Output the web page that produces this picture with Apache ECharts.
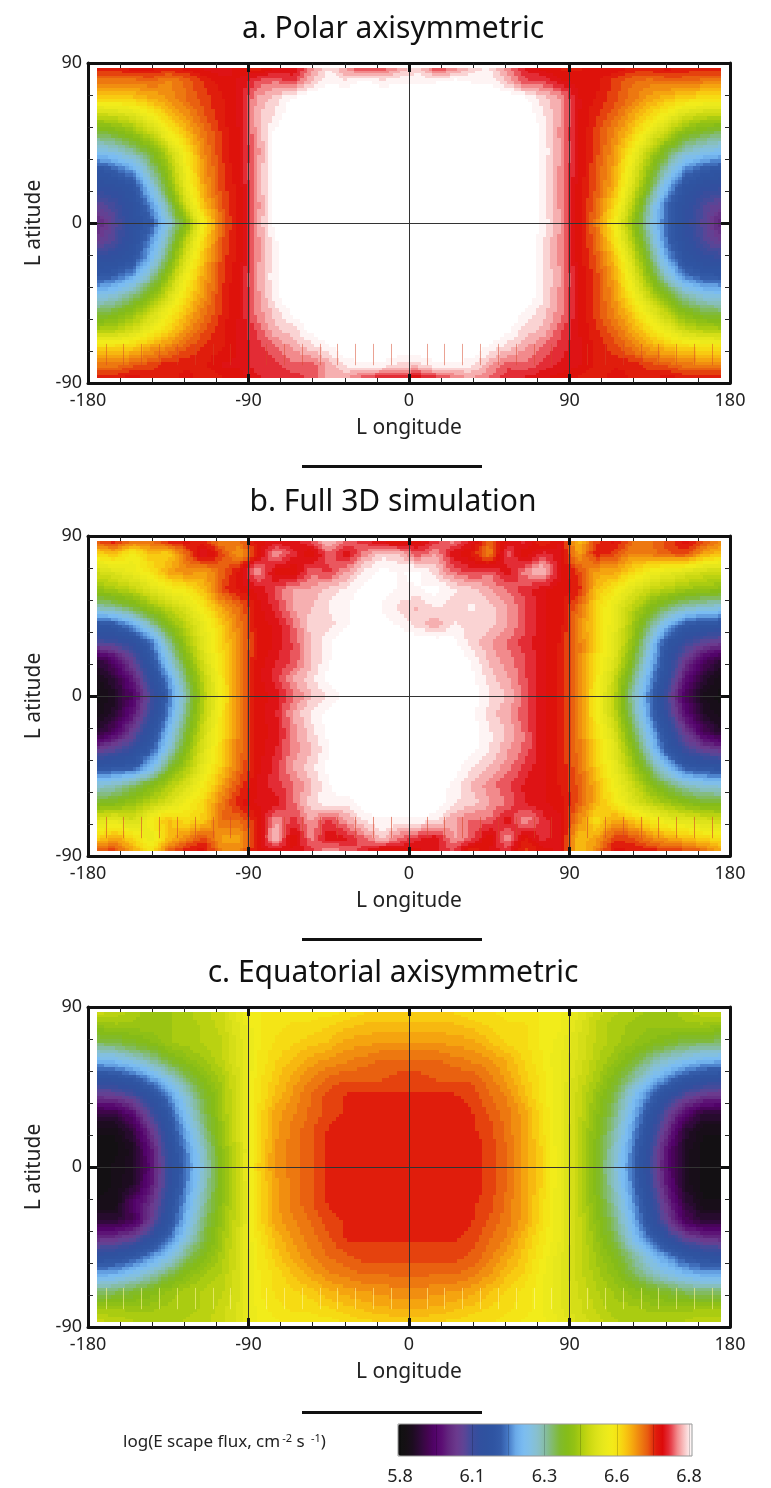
<!DOCTYPE html>
<html><head><meta charset="utf-8">
<style>html,body{margin:0;padding:0;background:#fff}#c{width:771px;height:1488px}</style>
<script src="https://cdn.jsdelivr.net/npm/echarts@6/dist/echarts.min.js"></script>
</head><body><div id="c"></div>
<script>
// Sample positions of the read grid (degrees)
const lons=[-175,-165,-155,-145,-135,-125,-115,-105,-95,-85,-75,-65,-55,-45,-35,-25,-15,-5,5,15,25,35,45,55,65,75,85,95,105,115,125,135,145,155,165,175];
const lats=[87,80,70,60,50,40,30,20,10,0,-10,-20,-30,-40,-50,-60,-70,-80,-87];
// log10 escape flux: one row per latitude, one value per longitude
const polar=[
[6.68,6.68,6.69,6.69,6.68,6.69,6.70,6.71,6.69,6.67,6.70,6.70,6.75,6.79,6.75,6.72,6.73,6.76,6.78,6.73,6.74,6.78,6.79,6.75,6.71,6.69,6.68,6.68,6.69,6.70,6.68,6.68,6.69,6.68,6.68,6.68],
[6.63,6.63,6.63,6.64,6.62,6.64,6.67,6.69,6.70,6.73,6.74,6.72,6.77,6.80,6.79,6.81,6.79,6.80,6.80,6.80,6.81,6.80,6.80,6.77,6.73,6.73,6.70,6.69,6.69,6.66,6.64,6.63,6.64,6.64,6.63,6.63],
[6.56,6.56,6.57,6.59,6.61,6.64,6.66,6.68,6.70,6.76,6.78,6.81,6.82,6.82,6.82,6.82,6.82,6.82,6.82,6.82,6.82,6.82,6.82,6.82,6.81,6.78,6.76,6.70,6.68,6.66,6.63,6.60,6.58,6.56,6.55,6.55],
[6.44,6.45,6.47,6.52,6.57,6.61,6.65,6.68,6.70,6.77,6.79,6.82,6.82,6.82,6.82,6.82,6.82,6.82,6.82,6.82,6.82,6.82,6.82,6.82,6.82,6.79,6.76,6.70,6.67,6.64,6.60,6.56,6.51,6.46,6.44,6.43],
[6.33,6.35,6.39,6.44,6.52,6.58,6.63,6.67,6.70,6.76,6.81,6.82,6.82,6.82,6.82,6.82,6.82,6.82,6.82,6.82,6.82,6.82,6.82,6.82,6.82,6.80,6.75,6.70,6.66,6.62,6.57,6.50,6.43,6.37,6.34,6.32],
[6.24,6.26,6.30,6.36,6.44,6.54,6.62,6.67,6.70,6.75,6.81,6.82,6.82,6.82,6.82,6.82,6.82,6.82,6.82,6.82,6.82,6.82,6.82,6.82,6.82,6.80,6.76,6.70,6.66,6.61,6.53,6.43,6.35,6.28,6.25,6.23],
[6.12,6.15,6.20,6.30,6.40,6.52,6.61,6.66,6.70,6.76,6.81,6.82,6.82,6.82,6.82,6.82,6.82,6.82,6.82,6.82,6.82,6.82,6.82,6.82,6.82,6.80,6.75,6.70,6.65,6.60,6.50,6.39,6.28,6.18,6.14,6.12],
[6.08,6.09,6.12,6.24,6.37,6.50,6.60,6.66,6.69,6.76,6.81,6.82,6.82,6.82,6.82,6.82,6.82,6.82,6.82,6.82,6.82,6.82,6.82,6.82,6.82,6.80,6.75,6.69,6.65,6.59,6.48,6.35,6.21,6.11,6.08,6.07],
[6.02,6.05,6.10,6.18,6.31,6.46,6.58,6.65,6.69,6.75,6.81,6.82,6.82,6.82,6.82,6.82,6.82,6.82,6.82,6.82,6.82,6.82,6.82,6.82,6.82,6.80,6.75,6.69,6.64,6.56,6.44,6.29,6.15,6.09,6.04,6.01],
[5.97,6.03,6.09,6.14,6.26,6.38,6.53,6.64,6.69,6.76,6.81,6.82,6.82,6.82,6.82,6.82,6.82,6.82,6.82,6.82,6.82,6.82,6.82,6.82,6.82,6.80,6.76,6.69,6.63,6.53,6.40,6.27,6.15,6.08,6.03,5.96],
[6.00,6.04,6.10,6.18,6.30,6.44,6.56,6.65,6.69,6.75,6.80,6.82,6.82,6.82,6.82,6.82,6.82,6.82,6.82,6.82,6.82,6.82,6.82,6.82,6.82,6.79,6.75,6.69,6.64,6.55,6.43,6.30,6.16,6.09,6.04,6.00],
[6.08,6.09,6.12,6.22,6.34,6.48,6.58,6.66,6.69,6.75,6.80,6.82,6.82,6.82,6.82,6.82,6.82,6.82,6.82,6.82,6.82,6.82,6.82,6.82,6.82,6.79,6.75,6.69,6.65,6.58,6.47,6.34,6.20,6.11,6.08,6.07],
[6.13,6.15,6.20,6.29,6.40,6.52,6.60,6.66,6.70,6.76,6.80,6.82,6.82,6.82,6.82,6.82,6.82,6.82,6.82,6.82,6.82,6.82,6.82,6.82,6.82,6.79,6.76,6.70,6.66,6.60,6.50,6.38,6.27,6.17,6.14,6.13],
[6.24,6.26,6.31,6.37,6.46,6.55,6.61,6.67,6.70,6.75,6.80,6.82,6.82,6.82,6.82,6.82,6.82,6.82,6.82,6.82,6.82,6.82,6.82,6.82,6.82,6.79,6.75,6.70,6.66,6.61,6.53,6.44,6.36,6.29,6.25,6.24],
[6.33,6.35,6.39,6.45,6.52,6.58,6.63,6.67,6.70,6.75,6.78,6.81,6.82,6.82,6.82,6.82,6.82,6.82,6.82,6.82,6.82,6.82,6.82,6.82,6.80,6.78,6.75,6.70,6.66,6.62,6.57,6.50,6.43,6.37,6.34,6.33],
[6.42,6.43,6.46,6.51,6.56,6.61,6.65,6.68,6.70,6.73,6.77,6.78,6.81,6.82,6.82,6.82,6.82,6.82,6.82,6.82,6.82,6.82,6.82,6.81,6.78,6.77,6.73,6.70,6.67,6.64,6.60,6.55,6.50,6.45,6.43,6.42],
[6.56,6.56,6.57,6.60,6.62,6.65,6.67,6.68,6.70,6.72,6.74,6.76,6.78,6.80,6.82,6.82,6.82,6.82,6.82,6.82,6.82,6.82,6.80,6.78,6.76,6.74,6.72,6.70,6.68,6.66,6.63,6.60,6.58,6.56,6.55,6.55],
[6.63,6.63,6.65,6.66,6.68,6.68,6.68,6.70,6.70,6.72,6.72,6.74,6.73,6.76,6.79,6.80,6.80,6.78,6.78,6.80,6.80,6.79,6.76,6.73,6.74,6.72,6.71,6.70,6.68,6.68,6.68,6.66,6.65,6.63,6.63,6.63],
[6.68,6.68,6.69,6.68,6.67,6.69,6.67,6.68,6.69,6.71,6.72,6.72,6.73,6.77,6.76,6.73,6.71,6.71,6.70,6.72,6.74,6.76,6.74,6.72,6.71,6.70,6.69,6.68,6.67,6.69,6.68,6.68,6.69,6.68,6.68,6.68]
];
const full=[
[6.66,6.68,6.64,6.64,6.68,6.69,6.67,6.62,6.64,6.69,6.70,6.70,6.73,6.78,6.74,6.72,6.69,6.68,6.69,6.72,6.75,6.71,6.64,6.70,6.72,6.66,6.70,6.58,6.66,6.69,6.64,6.63,6.66,6.69,6.66,6.62],
[6.56,6.58,6.52,6.58,6.56,6.64,6.72,6.66,6.60,6.68,6.76,6.72,6.68,6.74,6.70,6.75,6.78,6.77,6.73,6.76,6.70,6.68,6.62,6.74,6.68,6.72,6.70,6.60,6.68,6.66,6.62,6.63,6.65,6.66,6.60,6.58],
[6.46,6.48,6.51,6.54,6.60,6.62,6.60,6.64,6.69,6.76,6.69,6.68,6.74,6.72,6.76,6.79,6.81,6.80,6.81,6.78,6.74,6.72,6.74,6.70,6.75,6.78,6.70,6.66,6.60,6.60,6.56,6.52,6.50,6.48,6.46,6.45],
[6.40,6.42,6.44,6.48,6.52,6.54,6.58,6.66,6.69,6.70,6.73,6.76,6.76,6.78,6.79,6.81,6.81,6.80,6.80,6.81,6.79,6.78,6.76,6.74,6.72,6.70,6.69,6.68,6.58,6.54,6.49,6.45,6.43,6.41,6.40,6.39],
[6.29,6.31,6.35,6.40,6.44,6.48,6.54,6.60,6.64,6.69,6.72,6.76,6.77,6.79,6.80,6.82,6.80,6.78,6.77,6.79,6.78,6.79,6.78,6.76,6.73,6.70,6.69,6.64,6.56,6.50,6.44,6.38,6.33,6.29,6.27,6.26],
[6.12,6.14,6.20,6.29,6.38,6.44,6.50,6.57,6.63,6.69,6.70,6.74,6.78,6.78,6.80,6.81,6.81,6.80,6.78,6.76,6.79,6.78,6.78,6.76,6.73,6.70,6.69,6.62,6.56,6.50,6.42,6.32,6.22,6.14,6.12,6.11],
[6.04,6.05,6.08,6.16,6.30,6.41,6.49,6.56,6.62,6.68,6.70,6.73,6.77,6.80,6.82,6.82,6.82,6.82,6.82,6.82,6.81,6.78,6.76,6.74,6.72,6.70,6.68,6.63,6.56,6.49,6.40,6.26,6.12,6.06,6.02,6.00],
[5.87,5.93,6.02,6.12,6.25,6.37,6.47,6.55,6.62,6.69,6.71,6.73,6.77,6.80,6.82,6.82,6.82,6.82,6.82,6.82,6.82,6.80,6.77,6.75,6.73,6.70,6.68,6.63,6.55,6.48,6.37,6.23,6.10,6.00,5.92,5.87],
[5.83,5.88,5.96,6.08,6.19,6.33,6.44,6.54,6.62,6.69,6.72,6.76,6.78,6.81,6.82,6.82,6.82,6.82,6.82,6.82,6.82,6.81,6.78,6.76,6.73,6.70,6.68,6.63,6.54,6.45,6.33,6.20,6.08,5.95,5.87,5.83],
[5.82,5.85,5.92,6.04,6.16,6.30,6.43,6.53,6.63,6.69,6.70,6.74,6.77,6.79,6.81,6.82,6.82,6.82,6.82,6.82,6.82,6.81,6.79,6.77,6.74,6.70,6.68,6.63,6.53,6.44,6.30,6.17,6.04,5.91,5.84,5.82],
[5.83,5.87,5.95,6.06,6.18,6.32,6.44,6.54,6.63,6.69,6.71,6.76,6.79,6.81,6.82,6.82,6.82,6.82,6.82,6.82,6.82,6.81,6.78,6.76,6.73,6.70,6.68,6.63,6.53,6.44,6.32,6.18,6.06,5.94,5.86,5.83],
[5.86,5.92,6.01,6.10,6.22,6.35,6.46,6.55,6.63,6.69,6.70,6.75,6.78,6.81,6.82,6.82,6.82,6.82,6.82,6.82,6.82,6.81,6.79,6.77,6.74,6.70,6.68,6.63,6.55,6.47,6.35,6.22,6.10,6.00,5.91,5.86],
[6.00,6.03,6.07,6.14,6.26,6.38,6.48,6.56,6.63,6.69,6.71,6.75,6.77,6.80,6.82,6.82,6.82,6.82,6.82,6.82,6.82,6.81,6.79,6.76,6.74,6.70,6.68,6.63,6.56,6.49,6.39,6.26,6.13,6.05,6.01,5.99],
[6.12,6.13,6.14,6.22,6.34,6.42,6.50,6.57,6.64,6.69,6.72,6.76,6.78,6.81,6.82,6.82,6.82,6.82,6.82,6.82,6.81,6.79,6.77,6.75,6.72,6.70,6.68,6.64,6.57,6.50,6.42,6.33,6.23,6.14,6.12,6.11],
[6.26,6.28,6.32,6.37,6.42,6.47,6.53,6.60,6.66,6.70,6.72,6.74,6.77,6.80,6.82,6.82,6.82,6.82,6.82,6.81,6.80,6.77,6.75,6.73,6.71,6.70,6.68,6.65,6.59,6.52,6.46,6.39,6.33,6.28,6.26,6.25],
[6.36,6.37,6.40,6.43,6.47,6.52,6.56,6.63,6.68,6.70,6.70,6.74,6.78,6.80,6.79,6.82,6.82,6.82,6.82,6.82,6.79,6.78,6.76,6.74,6.71,6.70,6.69,6.65,6.59,6.54,6.48,6.44,6.41,6.38,6.36,6.36],
[6.48,6.50,6.46,6.53,6.58,6.55,6.57,6.64,6.64,6.68,6.76,6.72,6.76,6.72,6.76,6.79,6.80,6.80,6.80,6.79,6.76,6.74,6.74,6.70,6.76,6.72,6.70,6.62,6.55,6.60,6.58,6.54,6.50,6.49,6.47,6.46],
[6.56,6.60,6.56,6.50,6.58,6.62,6.66,6.60,6.60,6.68,6.78,6.68,6.75,6.70,6.71,6.74,6.78,6.74,6.72,6.70,6.76,6.74,6.68,6.76,6.68,6.72,6.70,6.58,6.60,6.66,6.66,6.62,6.60,6.58,6.56,6.55],
[6.66,6.66,6.60,6.54,6.64,6.68,6.69,6.62,6.62,6.69,6.70,6.70,6.72,6.76,6.74,6.72,6.68,6.69,6.69,6.71,6.73,6.66,6.70,6.72,6.66,6.69,6.70,6.58,6.62,6.69,6.68,6.68,6.66,6.66,6.64,6.60]
];
const equatorial=[
[6.45,6.44,6.42,6.40,6.41,6.42,6.44,6.45,6.50,6.53,6.54,6.54,6.54,6.54,6.55,6.56,6.57,6.57,6.57,6.57,6.56,6.55,6.55,6.54,6.54,6.53,6.52,6.49,6.45,6.43,6.42,6.41,6.40,6.42,6.44,6.44],
[6.40,6.41,6.41,6.41,6.41,6.42,6.43,6.45,6.49,6.53,6.54,6.55,6.55,6.56,6.57,6.58,6.58,6.58,6.58,6.58,6.58,6.57,6.56,6.55,6.55,6.53,6.52,6.48,6.44,6.42,6.41,6.40,6.41,6.41,6.41,6.40],
[6.33,6.34,6.36,6.38,6.41,6.42,6.43,6.44,6.48,6.53,6.55,6.56,6.57,6.58,6.60,6.60,6.61,6.61,6.61,6.61,6.60,6.60,6.58,6.56,6.55,6.53,6.51,6.47,6.44,6.42,6.40,6.38,6.36,6.34,6.33,6.33],
[6.22,6.23,6.26,6.30,6.35,6.39,6.41,6.44,6.48,6.53,6.56,6.58,6.60,6.61,6.62,6.63,6.64,6.64,6.64,6.64,6.63,6.62,6.61,6.59,6.56,6.53,6.50,6.47,6.43,6.40,6.36,6.31,6.27,6.24,6.22,6.21],
[6.10,6.11,6.14,6.19,6.26,6.33,6.38,6.42,6.47,6.54,6.57,6.60,6.62,6.64,6.65,6.65,6.65,6.66,6.66,6.65,6.65,6.65,6.63,6.60,6.57,6.54,6.50,6.46,6.42,6.37,6.31,6.24,6.18,6.13,6.10,6.09],
[6.00,6.01,6.04,6.10,6.18,6.27,6.35,6.41,6.47,6.54,6.58,6.61,6.64,6.66,6.67,6.67,6.67,6.67,6.67,6.67,6.67,6.66,6.64,6.62,6.58,6.54,6.50,6.45,6.40,6.34,6.25,6.17,6.09,6.03,6.00,5.99],
[5.88,5.88,5.94,6.04,6.13,6.24,6.33,6.41,6.47,6.55,6.60,6.62,6.64,6.66,6.67,6.68,6.68,6.68,6.68,6.68,6.68,6.67,6.65,6.63,6.60,6.55,6.50,6.45,6.39,6.32,6.22,6.12,6.02,5.93,5.87,5.87],
[5.83,5.83,5.88,5.99,6.10,6.21,6.31,6.40,6.47,6.55,6.60,6.63,6.65,6.67,6.68,6.68,6.68,6.68,6.68,6.68,6.68,6.67,6.66,6.63,6.60,6.55,6.50,6.44,6.38,6.30,6.20,6.09,5.98,5.87,5.83,5.83],
[5.82,5.82,5.85,5.95,6.08,6.18,6.28,6.39,6.46,6.55,6.61,6.63,6.65,6.67,6.68,6.68,6.68,6.68,6.68,6.68,6.68,6.68,6.66,6.64,6.60,6.56,6.50,6.44,6.37,6.28,6.18,6.07,5.94,5.85,5.82,5.82],
[5.82,5.83,5.85,5.94,6.07,6.17,6.27,6.38,6.46,6.56,6.61,6.63,6.65,6.67,6.68,6.68,6.68,6.68,6.68,6.68,6.68,6.68,6.66,6.64,6.60,6.56,6.50,6.44,6.37,6.27,6.17,6.06,5.94,5.85,5.82,5.82],
[5.82,5.83,5.86,5.95,6.07,6.18,6.28,6.38,6.46,6.55,6.60,6.63,6.65,6.67,6.68,6.68,6.68,6.68,6.68,6.68,6.68,6.68,6.66,6.64,6.60,6.56,6.50,6.44,6.37,6.28,6.18,6.07,5.95,5.85,5.82,5.82],
[5.83,5.83,5.92,5.98,6.09,6.20,6.30,6.39,6.46,6.55,6.60,6.63,6.65,6.67,6.68,6.68,6.68,6.68,6.68,6.68,6.68,6.67,6.66,6.63,6.60,6.55,6.50,6.44,6.38,6.30,6.20,6.09,5.98,5.88,5.83,5.83],
[5.87,5.87,5.90,6.00,6.11,6.22,6.32,6.40,6.46,6.55,6.60,6.62,6.64,6.66,6.67,6.68,6.68,6.68,6.68,6.68,6.68,6.67,6.65,6.63,6.60,6.55,6.50,6.45,6.39,6.32,6.22,6.11,6.01,5.91,5.87,5.87],
[5.98,5.99,6.02,6.08,6.16,6.26,6.34,6.41,6.47,6.54,6.58,6.61,6.63,6.65,6.67,6.67,6.67,6.67,6.67,6.67,6.67,6.66,6.64,6.62,6.58,6.54,6.50,6.45,6.40,6.34,6.25,6.16,6.08,6.02,5.99,5.98],
[6.09,6.10,6.13,6.18,6.24,6.32,6.37,6.42,6.47,6.53,6.57,6.60,6.62,6.64,6.65,6.66,6.66,6.66,6.66,6.66,6.66,6.65,6.63,6.60,6.57,6.53,6.49,6.45,6.41,6.37,6.31,6.24,6.18,6.13,6.10,6.09],
[6.20,6.21,6.24,6.28,6.33,6.38,6.41,6.43,6.47,6.53,6.55,6.58,6.60,6.62,6.63,6.64,6.64,6.64,6.64,6.64,6.64,6.63,6.61,6.58,6.56,6.52,6.49,6.45,6.42,6.39,6.34,6.29,6.25,6.22,6.20,6.20],
[6.32,6.33,6.35,6.37,6.40,6.42,6.43,6.44,6.47,6.53,6.55,6.56,6.57,6.59,6.60,6.61,6.61,6.62,6.62,6.61,6.61,6.60,6.58,6.56,6.54,6.52,6.49,6.46,6.43,6.41,6.39,6.37,6.35,6.33,6.32,6.32],
[6.41,6.41,6.41,6.41,6.42,6.42,6.43,6.45,6.48,6.52,6.54,6.55,6.55,6.56,6.57,6.58,6.59,6.59,6.59,6.59,6.58,6.57,6.56,6.55,6.54,6.52,6.49,6.46,6.44,6.42,6.42,6.41,6.41,6.41,6.41,6.41],
[6.45,6.44,6.43,6.42,6.42,6.43,6.44,6.45,6.48,6.52,6.53,6.54,6.54,6.54,6.55,6.56,6.56,6.57,6.57,6.56,6.56,6.55,6.55,6.54,6.53,6.52,6.50,6.47,6.45,6.43,6.42,6.42,6.42,6.43,6.44,6.44]
];
// Colour bar of the figure (evenly spaced from 5.8 to 6.8)
const barColors=['#111111','#141014','#1d0c20','#2e0a38','#43054f','#52036a','#5c0f74','#632a80','#6b3a8e','#5e4596','#3f4c9c','#324f9f','#2f529f','#2f55a3','#345ca9','#4679c6','#6aa9e8','#7abcf2','#82c0e4','#88c0cc','#86bda4','#82bb6c','#80ba30','#85bc18','#94c214','#b0ce10','#cad812','#dce21a','#e8e81c','#f2ec1a','#f6e014','#f8c610','#f5a40f','#ee7f10','#e85a10','#e01d0c','#dc0a0a','#e53540','#f28a8c','#f9c8c8','#ffffff'];
const barMin=5.8, barMax=6.8;
const barLabels=['5.8','','6.1','','6.3','','6.6','','6.8'];
const panelTitles=['a. Polar axisymmetric','b. Full 3D simulation','c. Equatorial axisymmetric'];
const panelTops=[63,536,1007];
const panelHeight=320;
const artefactLons=[-170,-160,-150,-140,-130,-120,-110,-100,-80,-70,-60,-50,-40,-30,-20,-10,10,20,30,40,50,60,70,80,100,110,120,130,140,150,160,170];
const artefactLat=[-68,-80];
const artefactColors=['rgba(214,70,40,.5)','rgba(214,70,40,.6)','rgba(255,245,150,.6)'];

const FONT='"Noto Sans"';
const colorCache={};
function shade(v){
  const level=Math.round(v/0.015)*0.015;
  const k=level.toFixed(3);
  if(!colorCache[k]){
    const t=Math.min(1,Math.max(0,(level-barMin)/(barMax-barMin)));
    colorCache[k]=echarts.color.lerp(t,barColors);
  }
  return colorCache[k];
}
// Contour-style shading between neighbouring read samples: each series item is one grid cell.
const SUB=5;
function renderCell(params,api){
  const lon0=api.value(0),lat0=api.value(1),lon1=api.value(2),lat1=api.value(3);
  const a=api.value(4),b=api.value(5),c=api.value(6),d=api.value(7);
  const children=[];
  for(let i=0;i<SUB;i++)for(let j=0;j<SUB;j++){
    const u0=i/SUB,u1=(i+1)/SUB,w0=j/SUB,w1=(j+1)/SUB;
    const p=api.coord([lon0+(lon1-lon0)*u0,lat0+(lat1-lat0)*w0]);
    const q=api.coord([lon0+(lon1-lon0)*u1,lat0+(lat1-lat0)*w1]);
    const x=Math.round(p[0]),y=Math.round(p[1]),x2=Math.round(q[0]),y2=Math.round(q[1]);
    const um=(u0+u1)/2,wm=(w0+w1)/2;
    const v=a*(1-um)*(1-wm)+b*um*(1-wm)+c*(1-um)*wm+d*um*wm;
    children.push({type:'rect',shape:{x:x,y:y,width:x2-x,height:y2-y},style:{fill:shade(v)},silent:true});
  }
  return {type:'group',children:children};
}
function cells(rows){
  const out=[];
  for(let r=0;r<lats.length-1;r++)for(let k=0;k<lons.length-1;k++){
    out.push([lons[k],lats[r],lons[k+1],lats[r+1],rows[r][k],rows[r][k+1],rows[r+1][k],rows[r+1][k+1]]);
  }
  return out;
}
const frame={lineStyle:{color:'#111',width:3},onZero:false,show:true};
const axisText={color:'#222',fontFamily:FONT,fontSize:18};
function xAxisFor(g,pos,labels){return {type:'value',gridIndex:g,position:pos,min:-180,max:180,interval:90,z:5,
  axisLine:frame,axisTick:{inside:true,length:9,lineStyle:{color:'#111',width:3}},
  minorTick:{show:true,splitNumber:5,length:5,lineStyle:{color:'#222',width:1}},
  minorSplitLine:{show:false},
  splitLine:{show:labels,lineStyle:{color:'#333',width:1}},
  axisLabel:{show:labels,margin:9,...axisText},
  name:labels?'L ongitude':'',nameLocation:'middle',nameGap:35,nameTextStyle:{color:'#222',fontFamily:FONT,fontSize:21}};}
function yAxisFor(g,pos,labels){return {type:'value',gridIndex:g,position:pos,min:-90,max:90,interval:90,z:5,
  axisLine:frame,axisTick:{inside:true,length:9,lineStyle:{color:'#111',width:3}},
  minorTick:{show:true,splitNumber:5,length:5,lineStyle:{color:'#222',width:1}},
  splitLine:{show:labels,lineStyle:{color:'#333',width:1}},
  axisLabel:{show:labels,margin:6,...axisText},
  name:labels?'L atitude':'',nameLocation:'middle',nameGap:40,nameTextStyle:{color:'#222',fontFamily:FONT,fontSize:21}};}

const grids=[],xAxes=[],yAxes=[],series=[],titles=[],graphics=[];
const panels=[polar,full,equatorial];
panels.forEach((rows,g)=>{
  grids.push({left:88,width:642,top:panelTops[g],height:panelHeight,containLabel:false});
  xAxes.push(xAxisFor(g,'bottom',true),xAxisFor(g,'top',false));
  yAxes.push(yAxisFor(g,'left',true),yAxisFor(g,'right',false));
  titles.push({text:panelTitles[g],left:388,textAlign:'center',top:panelTops[g]-54,textStyle:{color:'#111',fontFamily:FONT,fontWeight:'normal',fontSize:30}});
  series.push({type:'custom',xAxisIndex:g*2,yAxisIndex:g*2,coordinateSystem:'cartesian2d',data:cells(rows),
    renderItem:renderCell,progressive:0,animation:false,silent:true,clip:true,z:2,
    encode:{x:[0,2],y:[1,3]},
    markLine:{silent:true,symbol:'none',animation:false,label:{show:false},z:3,
      lineStyle:{color:artefactColors[g],width:1,type:'solid'},
      data:artefactLons.map(lon=>[{coord:[lon,artefactLat[0]]},{coord:[lon,artefactLat[1]]}])}});
});
[465,938,1411].forEach(y=>graphics.push({type:'rect',shape:{x:302,y:y,width:180,height:3},style:{fill:'#111'},z:10}));
graphics.push({type:'rect',shape:{x:398,y:1424,width:294,height:32},style:{fill:'none',stroke:'#999',lineWidth:1},z:10});
titles.push({text:'log(E scape flux, cm{s|-2} s {s|-1})',left:118,top:1428,textStyle:{color:'#222',fontFamily:FONT,fontWeight:'normal',fontSize:17,
  rich:{s:{fontFamily:FONT,fontSize:11,verticalAlign:'top',color:'#222',padding:[0,0,8,2]}}}});
// colour bar scale
grids.push({left:400,width:289,top:1424,height:32});
xAxes.push({type:'category',gridIndex:3,data:barLabels,boundaryGap:false,z:6,axisLine:{show:false},axisTick:{show:false},
  splitLine:{show:true,lineStyle:{color:'rgba(0,0,0,.18)',width:1}},
  axisLabel:{interval:0,margin:12,color:'#222',fontFamily:FONT,fontSize:18}});
yAxes.push({type:'value',gridIndex:3,min:0,max:1,show:false});

const chart=echarts.init(document.getElementById('c'),null,{renderer:'canvas',width:771,height:1488});
chart.setOption({
  backgroundColor:'#fff',animation:false,title:titles,grid:grids,xAxis:xAxes,yAxis:yAxes,series:series,
  visualMap:[{type:'continuous',min:barMin,max:barMax,seriesIndex:[],calculable:false,orient:'horizontal',left:398,top:1424,
    itemWidth:32,itemHeight:294,padding:0,showLabel:false,text:null,hoverLink:false,inRange:{color:barColors}}],
  graphic:graphics,tooltip:{show:false}
});
</script></body></html>
